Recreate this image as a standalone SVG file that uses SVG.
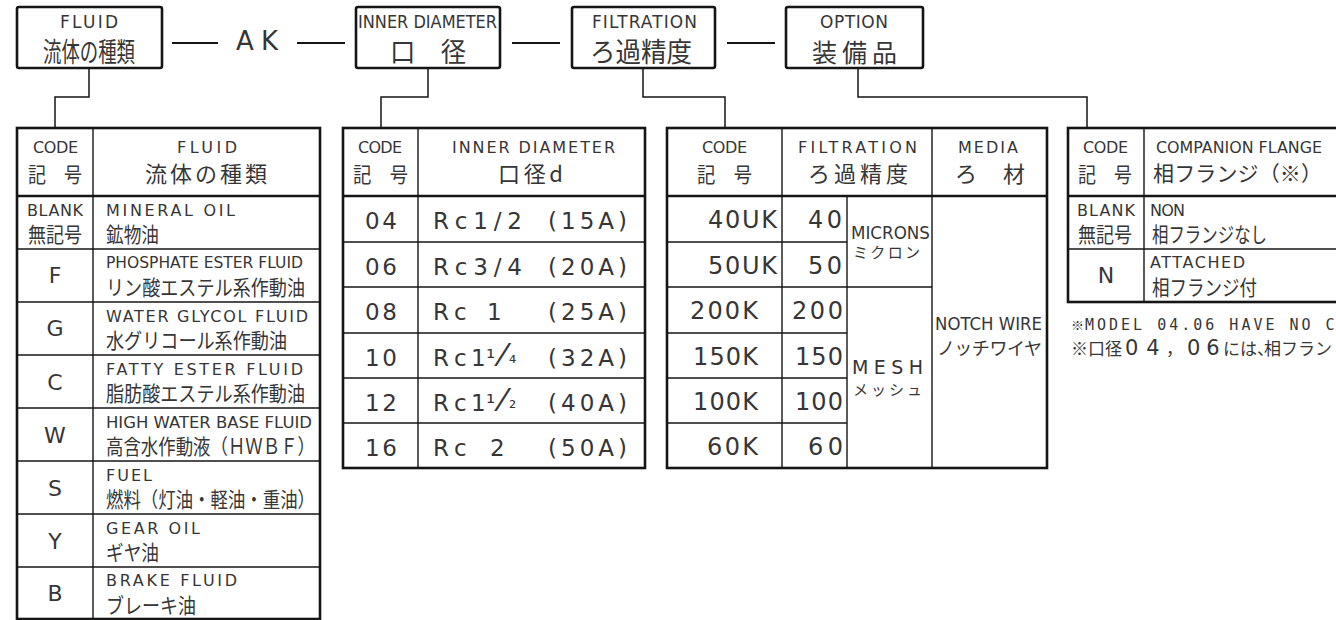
<svg xmlns="http://www.w3.org/2000/svg" width="1336" height="620" viewBox="0 0 1336 620">
<style>
.en{font-family:"DejaVu Sans","Noto Sans CJK JP",sans-serif;fill:#363636}
.jp{font-family:"Noto Sans CJK JP","DejaVu Sans",sans-serif;fill:#363636}
.mono{font-family:"DejaVu Sans Mono","Noto Sans CJK JP",monospace;fill:#363636}
.box{fill:#fff;stroke:#151515;stroke-width:2.6}
.frame{fill:none;stroke:#151515;stroke-width:2.6}
.thk{stroke:#151515;stroke-width:2.6;fill:none}
.thn{stroke:#151515;stroke-width:1.4;fill:none}
.con{stroke:#151515;stroke-width:1.5;fill:none}
.dash{stroke:#151515;stroke-width:2.2;fill:none}
</style>
<rect width="1336" height="620" fill="#fff"/>

<g id="connectors">
<line class="dash" x1="172" y1="43" x2="218" y2="43"/>
<line class="dash" x1="297" y1="43" x2="345" y2="43"/>
<line class="dash" x1="512" y1="43" x2="560" y2="43"/>
<line class="dash" x1="727" y1="43" x2="775" y2="43"/>
<polyline class="con" points="89,68 89,97 55,97 55,128"/>
<polyline class="con" points="428,68 428,97 381,97 381,128"/>
<polyline class="con" points="643,68 643,97 725,97 725,128"/>
<polyline class="con" points="858,68 858,97 1087,97 1087,128"/>
</g>

<g id="node-fluid">
<rect class="box" x="17" y="7" width="145" height="61" rx="2"/>
<text class="en" x="60" y="28" font-size="17" textLength="58" lengthAdjust="spacing">FLUID</text>
<text class="jp" x="43" y="62" font-size="27" textLength="92" lengthAdjust="spacingAndGlyphs">流体の種類</text>
</g>
<g id="node-ak">
<text class="en" x="236" y="50" font-size="26" textLength="42" lengthAdjust="spacing">AK</text>
</g>
<g id="node-diameter">
<rect class="box" x="356" y="7" width="144" height="61" rx="2"/>
<text class="en" x="358" y="28" font-size="17" textLength="139" lengthAdjust="spacingAndGlyphs">INNER DIAMETER</text>
<text class="jp" x="390" y="62" font-size="27" textLength="76" lengthAdjust="spacingAndGlyphs">口　径</text>
</g>
<g id="node-filtration">
<rect class="box" x="572" y="7" width="143" height="61" rx="2"/>
<text class="en" x="592" y="28" font-size="17" textLength="105" lengthAdjust="spacing">FILTRATION</text>
<text class="jp" x="590" y="62" font-size="27" textLength="102" lengthAdjust="spacingAndGlyphs">ろ過精度</text>
</g>
<g id="node-option">
<rect class="box" x="786" y="7" width="137" height="61" rx="2"/>
<text class="en" x="820" y="28" font-size="17" textLength="68" lengthAdjust="spacing">OPTION</text>
<text class="jp" x="812" y="62" font-size="25" textLength="85" lengthAdjust="spacing">装備品</text>
</g>

<g id="table-fluid">
<rect class="frame" x="17" y="128" width="303" height="491"/>
<line class="thk" x1="17" y1="196" x2="320" y2="196"/>
<line class="thn" x1="93" y1="128" x2="93" y2="619"/>
<line class="thn" x1="17" y1="249" x2="320" y2="249"/>
<line class="thn" x1="17" y1="302" x2="320" y2="302"/>
<line class="thn" x1="17" y1="355" x2="320" y2="355"/>
<line class="thn" x1="17" y1="408" x2="320" y2="408"/>
<line class="thn" x1="17" y1="461" x2="320" y2="461"/>
<line class="thn" x1="17" y1="514" x2="320" y2="514"/>
<line class="thn" x1="17" y1="567" x2="320" y2="567"/>
<text class="en" x="33" y="153" font-size="16" textLength="45" lengthAdjust="spacing">CODE</text>
<text class="jp" x="28" y="182" font-size="21" textLength="54" lengthAdjust="spacingAndGlyphs">記　号</text>
<text class="en" x="177" y="153" font-size="16" textLength="60" lengthAdjust="spacing">FLUID</text>
<text class="jp" x="145" y="182" font-size="22" textLength="122" lengthAdjust="spacing">流体の種類</text>

<text class="en" x="27" y="216" font-size="16" textLength="56" lengthAdjust="spacing">BLANK</text>
<text class="jp" x="28" y="242" font-size="21" textLength="54" lengthAdjust="spacingAndGlyphs">無記号</text>
<text class="en" x="106" y="216" font-size="16" textLength="129" lengthAdjust="spacing">MINERAL OIL</text>
<text class="jp" x="106" y="242" font-size="21" textLength="53" lengthAdjust="spacingAndGlyphs">鉱物油</text>

<text class="en" x="55" y="283" font-size="22" text-anchor="middle">F</text>
<text class="en" x="106" y="268" font-size="15" textLength="197" lengthAdjust="spacingAndGlyphs">PHOSPHATE ESTER FLUID</text>
<text class="jp" x="106" y="295" font-size="21" textLength="199" lengthAdjust="spacingAndGlyphs">リン酸エステル系作動油</text>

<text class="en" x="55" y="336" font-size="22" text-anchor="middle">G</text>
<text class="en" x="106" y="322" font-size="16" textLength="202" lengthAdjust="spacing">WATER GLYCOL FLUID</text>
<text class="jp" x="106" y="348" font-size="21" textLength="181" lengthAdjust="spacingAndGlyphs">水グリコール系作動油</text>

<text class="en" x="55" y="390" font-size="22" text-anchor="middle">C</text>
<text class="en" x="106" y="375" font-size="16" textLength="197" lengthAdjust="spacing">FATTY ESTER FLUID</text>
<text class="jp" x="106" y="401" font-size="21" textLength="199" lengthAdjust="spacingAndGlyphs">脂肪酸エステル系作動油</text>

<text class="en" x="55" y="443" font-size="22" text-anchor="middle">W</text>
<text class="en" x="106" y="428" font-size="15" textLength="206" lengthAdjust="spacingAndGlyphs">HIGH WATER BASE FLUID</text>
<text class="jp" x="106" y="454" font-size="21" textLength="209" lengthAdjust="spacingAndGlyphs">高含水作動液（ＨＷＢＦ）</text>

<text class="en" x="55" y="496" font-size="22" text-anchor="middle">S</text>
<text class="en" x="106" y="481" font-size="16" textLength="46" lengthAdjust="spacing">FUEL</text>
<text class="jp" x="106" y="507" font-size="21" textLength="209" lengthAdjust="spacingAndGlyphs">燃料（灯油・軽油・重油）</text>

<text class="en" x="55" y="549" font-size="22" text-anchor="middle">Y</text>
<text class="en" x="106" y="534" font-size="16" textLength="94" lengthAdjust="spacing">GEAR OIL</text>
<text class="jp" x="106" y="560" font-size="21" textLength="53" lengthAdjust="spacingAndGlyphs">ギヤ油</text>

<text class="en" x="55" y="601" font-size="22" text-anchor="middle">B</text>
<text class="en" x="106" y="586" font-size="16" textLength="131" lengthAdjust="spacing">BRAKE FLUID</text>
<text class="jp" x="106" y="613" font-size="21" textLength="90" lengthAdjust="spacingAndGlyphs">ブレーキ油</text>
</g>

<g id="table-diameter">
<rect class="frame" x="343" y="128" width="302" height="340"/>
<line class="thk" x1="343" y1="196" x2="645" y2="196"/>
<line class="thn" x1="418" y1="128" x2="418" y2="468"/>
<line class="thn" x1="343" y1="242" x2="645" y2="242"/>
<line class="thn" x1="343" y1="287" x2="645" y2="287"/>
<line class="thn" x1="343" y1="333" x2="645" y2="333"/>
<line class="thn" x1="343" y1="378" x2="645" y2="378"/>
<line class="thn" x1="343" y1="423" x2="645" y2="423"/>
<text class="en" x="358" y="153" font-size="16" textLength="44" lengthAdjust="spacing">CODE</text>
<text class="jp" x="353" y="182" font-size="21" textLength="55" lengthAdjust="spacingAndGlyphs">記　号</text>
<text class="en" x="452" y="153" font-size="16" textLength="163" lengthAdjust="spacing">INNER DIAMETER</text>
<text class="jp" x="498" y="182" font-size="22" textLength="65" lengthAdjust="spacing">口径d</text>

<text class="en" x="365" y="229" font-size="23" textLength="32" lengthAdjust="spacing">04</text>
<text class="en" x="433" y="229" font-size="23" textLength="89" lengthAdjust="spacing">Rc1/2</text>
<text class="en" x="548" y="229" font-size="23" textLength="79" lengthAdjust="spacing">(15A)</text>

<text class="en" x="365" y="275" font-size="23" textLength="32" lengthAdjust="spacing">06</text>
<text class="en" x="433" y="275" font-size="23" textLength="89" lengthAdjust="spacing">Rc3/4</text>
<text class="en" x="548" y="275" font-size="23" textLength="79" lengthAdjust="spacing">(20A)</text>

<text class="en" x="365" y="320" font-size="23" textLength="32" lengthAdjust="spacing">08</text>
<text class="en" y="320" font-size="23"><tspan x="433">R</tspan><tspan x="454">c</tspan><tspan x="487">1</tspan></text>
<text class="en" x="548" y="320" font-size="23" textLength="79" lengthAdjust="spacing">(25A)</text>

<text class="en" x="365" y="366" font-size="23" textLength="32" lengthAdjust="spacing">10</text>
<text class="en" y="366" font-size="23"><tspan x="433">R</tspan><tspan x="454">c</tspan><tspan x="471">1</tspan><tspan x="486">¹</tspan><tspan x="500" font-size="32">⁄</tspan><tspan x="509" font-size="18" dy="-3">₄</tspan></text>
<text class="en" x="548" y="366" font-size="23" textLength="79" lengthAdjust="spacing">(32A)</text>

<text class="en" x="365" y="411" font-size="23" textLength="32" lengthAdjust="spacing">12</text>
<text class="en" y="411" font-size="23"><tspan x="433">R</tspan><tspan x="454">c</tspan><tspan x="471">1</tspan><tspan x="486">¹</tspan><tspan x="500" font-size="32">⁄</tspan><tspan x="509" font-size="18" dy="-3">₂</tspan></text>
<text class="en" x="548" y="411" font-size="23" textLength="79" lengthAdjust="spacing">(40A)</text>

<text class="en" x="365" y="456" font-size="23" textLength="32" lengthAdjust="spacing">16</text>
<text class="en" y="456" font-size="23"><tspan x="433">R</tspan><tspan x="454">c</tspan><tspan x="490">2</tspan></text>
<text class="en" x="548" y="456" font-size="23" textLength="79" lengthAdjust="spacing">(50A)</text>
</g>

<g id="table-filtration">
<rect class="frame" x="667" y="128" width="380" height="340"/>
<line class="thk" x1="667" y1="196" x2="1047" y2="196"/>
<line class="thn" x1="782" y1="128" x2="782" y2="468"/>
<line class="thn" x1="932" y1="128" x2="932" y2="468"/>
<line class="thn" x1="847" y1="196" x2="847" y2="468"/>
<line class="thn" x1="667" y1="242" x2="847" y2="242"/>
<line class="thn" x1="667" y1="287" x2="932" y2="287"/>
<line class="thn" x1="667" y1="333" x2="847" y2="333"/>
<line class="thn" x1="667" y1="378" x2="847" y2="378"/>
<line class="thn" x1="667" y1="423" x2="847" y2="423"/>
<text class="en" x="702" y="153" font-size="16" textLength="45" lengthAdjust="spacing">CODE</text>
<text class="jp" x="697" y="182" font-size="21" textLength="55" lengthAdjust="spacingAndGlyphs">記　号</text>
<text class="en" x="798" y="153" font-size="16" textLength="119" lengthAdjust="spacing">FILTRATION</text>
<text class="jp" x="808" y="182" font-size="22" textLength="100" lengthAdjust="spacing">ろ過精度</text>
<text class="en" x="958" y="153" font-size="16" textLength="60" lengthAdjust="spacing">MEDIA</text>
<text class="jp" x="955" y="182" font-size="22" textLength="70" lengthAdjust="spacing">ろ　材</text>

<text class="en" x="708" y="228" font-size="24" textLength="69" lengthAdjust="spacing">40UK</text>
<text class="en" x="808" y="228" font-size="24" textLength="34" lengthAdjust="spacing">40</text>
<text class="en" x="708" y="274" font-size="24" textLength="69" lengthAdjust="spacing">50UK</text>
<text class="en" x="808" y="274" font-size="24" textLength="34" lengthAdjust="spacing">50</text>
<text class="en" x="690" y="319" font-size="24" textLength="68" lengthAdjust="spacing">200K</text>
<text class="en" x="792" y="319" font-size="24" textLength="51" lengthAdjust="spacing">200</text>
<text class="en" x="693" y="365" font-size="24" textLength="65" lengthAdjust="spacing">150K</text>
<text class="en" x="795" y="365" font-size="24" textLength="48" lengthAdjust="spacing">150</text>
<text class="en" x="693" y="410" font-size="24" textLength="65" lengthAdjust="spacing">100K</text>
<text class="en" x="795" y="410" font-size="24" textLength="48" lengthAdjust="spacing">100</text>
<text class="en" x="707" y="455" font-size="24" textLength="51" lengthAdjust="spacing">60K</text>
<text class="en" x="808" y="455" font-size="24" textLength="35" lengthAdjust="spacing">60</text>

<text class="en" x="851" y="239" font-size="18" textLength="79" lengthAdjust="spacingAndGlyphs">MICRONS</text>
<text class="jp" x="853" y="258" font-size="15" textLength="67" lengthAdjust="spacing">ミクロン</text>
<text class="en" x="852" y="374" font-size="19" textLength="71" lengthAdjust="spacing">MESH</text>
<text class="jp" x="853" y="395" font-size="15" textLength="69" lengthAdjust="spacing">メッシュ</text>
<text class="en" x="935" y="330" font-size="17" textLength="107" lengthAdjust="spacingAndGlyphs">NOTCH WIRE</text>
<text class="jp" x="937" y="355" font-size="18" textLength="105" lengthAdjust="spacing">ノッチワイヤ</text>
</g>

<g id="table-flange">
<rect class="frame" x="1068" y="128" width="290" height="174"/>
<line class="thk" x1="1068" y1="196" x2="1358" y2="196"/>
<line class="thn" x1="1144" y1="128" x2="1144" y2="302"/>
<line class="thn" x1="1068" y1="249" x2="1358" y2="249"/>
<text class="en" x="1083" y="153" font-size="16" textLength="45" lengthAdjust="spacing">CODE</text>
<text class="jp" x="1078" y="182" font-size="21" textLength="54" lengthAdjust="spacingAndGlyphs">記　号</text>
<text class="en" x="1156" y="153" font-size="16" textLength="166" lengthAdjust="spacingAndGlyphs">COMPANION FLANGE</text>
<text class="jp" x="1153" y="181" font-size="21" textLength="169" lengthAdjust="spacing">相フランジ（※）</text>

<text class="en" x="1077" y="216" font-size="16" textLength="58" lengthAdjust="spacing">BLANK</text>
<text class="jp" x="1078" y="242" font-size="21" textLength="54" lengthAdjust="spacingAndGlyphs">無記号</text>
<text class="en" x="1150" y="216" font-size="16" textLength="35" lengthAdjust="spacing">NON</text>
<text class="jp" x="1152" y="242" font-size="21" textLength="115" lengthAdjust="spacingAndGlyphs">相フランジなし</text>

<text class="en" x="1106" y="283" font-size="22" text-anchor="middle">N</text>
<text class="en" x="1150" y="268" font-size="16" textLength="95" lengthAdjust="spacing">ATTACHED</text>
<text class="jp" x="1152" y="295" font-size="21" textLength="105" lengthAdjust="spacingAndGlyphs">相フランジ付</text>
</g>

<g id="note">
<text class="mono" y="330" font-size="15" letter-spacing="3"><tspan x="1071" font-size="13">※</tspan><tspan x="1085">MODEL 04.06 HAVE NO C</tspan></text>
<text class="jp" y="355" font-size="17"><tspan x="1071">※口径</tspan><tspan x="1125" font-family="DejaVu Sans" font-size="21" letter-spacing="8">04</tspan><tspan x="1166">，</tspan><tspan x="1187" font-family="DejaVu Sans" font-size="21" letter-spacing="6">06</tspan><tspan x="1223">には、</tspan><tspan x="1264">相フラン</tspan></text>
</g>
</svg>
